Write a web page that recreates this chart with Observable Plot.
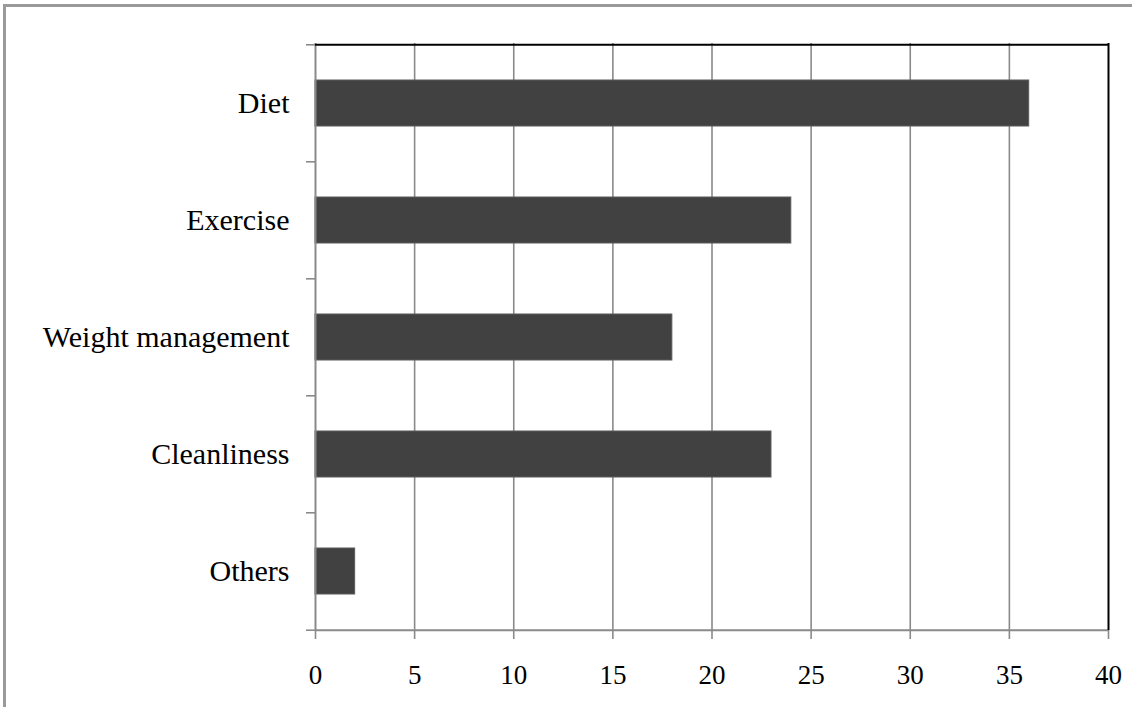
<!DOCTYPE html>
<html>
<head>
<meta charset="utf-8">
<script src="https://cdn.jsdelivr.net/npm/d3@7"></script>
<script src="https://cdn.jsdelivr.net/npm/@observablehq/plot@0.6"></script>
<style>
  html, body { margin: 0; padding: 0; background: #fff; }
  #wrap { position: relative; width: 1132px; height: 707px; overflow: hidden; }
  #edge { position: absolute; left: 3px; top: 4px; width: 1200px; height: 800px;
          border-left: 3px solid #9a9a9a; border-top: 3px solid #9a9a9a; box-sizing: border-box; }
  #chart { position: absolute; left: 0; top: 0; }
</style>
</head>
<body>
<div id="wrap"><div id="edge"></div><div id="chart"></div></div>
<script>
// Health topics and their counts
const categories = ["Diet", "Exercise", "Weight management", "Cleanliness", "Others"];
const counts = [36, 24, 18, 23, 2];
const xTicks = [0, 5, 10, 15, 20, 25, 30, 35, 40];

const data = categories.map((c, i) => ({category: c, count: counts[i]}));

const W = 1132, H = 707;
const mTop = 43, mRight = 24, mBottom = 77, mLeft = 315;
const step = (H - mTop - mBottom) / categories.length;
const grey = "#8a8a8a";
const font = "'Liberation Serif', 'Times New Roman', serif";
const first = categories[0], last = categories[categories.length - 1];

const chart = Plot.plot({
  width: W,
  height: H,
  marginTop: mTop,
  marginRight: mRight,
  marginBottom: mBottom,
  marginLeft: mLeft,
  style: {fontFamily: font, background: "transparent", color: "#000"},
  x: {domain: [0, 40], ticks: xTicks},
  y: {domain: categories, paddingInner: 0.608, paddingOuter: 0.304},
  marks: [
    // vertical gridlines
    Plot.ruleX(xTicks.filter(v => v > 0 && v < 40), {stroke: grey, strokeWidth: 1.6}),
    // bars
    Plot.barX(data, {x: "count", y: "category", fill: "#414141", stroke: "#5a5a5a", strokeWidth: 1}),
    // plot border: grey left/bottom, black top/right
    Plot.ruleX([0], {stroke: grey, strokeWidth: 2}),
    Plot.ruleY([last], {dy: step / 2, stroke: grey, strokeWidth: 2}),
    Plot.ruleY([first], {dy: -step / 2, stroke: "#000", strokeWidth: 2}),
    Plot.ruleX([40], {stroke: "#000", strokeWidth: 2}),
    // x axis ticks and labels
    Plot.axisX({ticks: xTicks, tickSize: 9, tickPadding: 25, stroke: grey, strokeWidth: 1.6,
                fontSize: 27, fill: "#000", label: null}),
    // category separators on the y axis
    Plot.axisY({ticks: categories, tickSize: 9, dy: -step / 2, text: null, stroke: grey, strokeWidth: 1.6, label: null}),
    Plot.axisY({ticks: [last], tickSize: 9, dy: step / 2, text: null, stroke: grey, strokeWidth: 1.6, label: null}),
    // category labels
    Plot.axisY({tickSize: 0, tickPadding: 26, fontSize: 30, fill: "#000", label: null})
  ]
});

document.getElementById("chart").appendChild(chart);
</script>
</body>
</html>
